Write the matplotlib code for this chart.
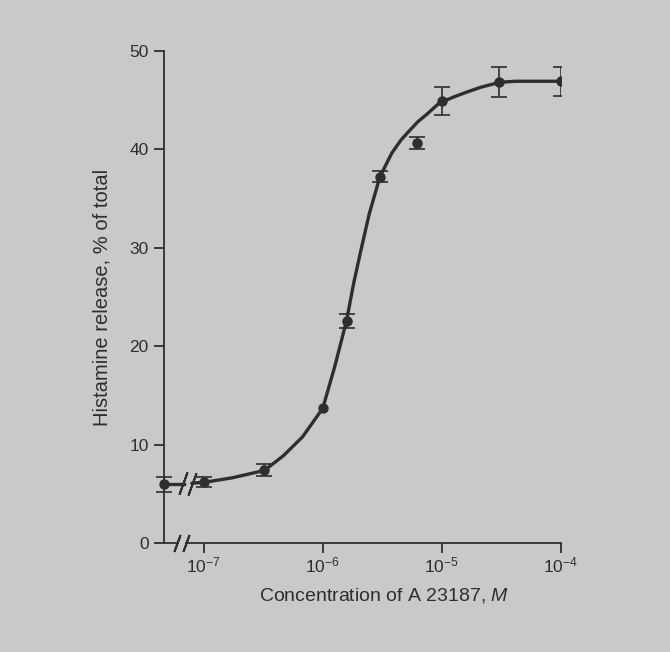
import numpy as np
import matplotlib as mpl
mpl.use('Agg')
import matplotlib.pyplot as plt
from matplotlib.ticker import FixedLocator, NullLocator

# measured points (A 23187 concentration, M)
conc = [1e-7, 3.2e-7, 1e-6, 1.6e-6, 3e-6, 6.2e-6, 1e-5, 3e-5, 1e-4]
release = [6.2, 7.4, 13.7, 22.6, 37.2, 40.6, 44.9, 46.8, 46.9]
release_err = [0.5, 0.6, 0.0, 0.7, 0.55, 0.6, 1.45, 1.5, 1.45]

# control (no ionophore), drawn on the y axis
control_release = 6.0
control_err = 0.75

# hand drawn curve (log10 of concentration)
curve_logc = [-7.10, -6.99, -6.76, -6.49, -6.33, -6.17, -6.00, -5.90, -5.80,
              -5.74, -5.68, -5.61, -5.52, -5.42, -5.345, -5.27, -5.20, -5.13,
              -5.02, -4.90, -4.79, -4.67, -4.51, -4.38, -4.00]
curve_release = [6.1, 6.2, 6.65, 7.4, 8.9, 10.8, 13.7, 17.9, 22.6,
                 26.4, 29.7, 33.4, 37.2, 39.6, 40.9, 41.9, 42.8, 43.5,
                 44.7, 45.3, 45.8, 46.3, 46.8, 46.9, 46.9]

xticks = [1e-7, 1e-6, 1e-5, 1e-4]
xticklabels = [r'$10^{-7}$', r'$10^{-6}$', r'$10^{-5}$', r'$10^{-4}$']
yticks = [0, 10, 20, 30, 40, 50]

bg = '#c9c9c7'
ink = '#2e2e2e'

plt.rcParams['font.family'] = ['Liberation Sans', 'DejaVu Sans']
plt.rcParams['mathtext.fontset'] = 'custom'
plt.rcParams['mathtext.rm'] = 'Liberation Sans'
plt.rcParams['mathtext.it'] = 'Liberation Sans:italic'
plt.rcParams['font.size'] = 12

fig = plt.figure(figsize=(6.7, 6.52), dpi=100)
fig.patch.set_facecolor(bg)
ax = fig.add_axes([0.2448, 0.1667, 0.5921, 0.7555])
ax.set_facecolor(bg)

xmin = 10 ** -7.334
ax.set_xscale('log')
ax.set_xlim(xmin, 1e-4)
ax.set_ylim(0, 50)

# curve
ax.plot(10 ** np.array(curve_logc), curve_release, color=ink, lw=2.4,
        solid_capstyle='round', solid_joinstyle='round', zorder=3)
# control segment up to the break
brk_a = 10 ** -7.165
ax.plot([xmin, brk_a], [control_release, control_release], color=ink, lw=2.4,
        clip_on=False, zorder=3)

# data points
conc_a = np.array(conc)
rel_a = np.array(release)
err_a = np.array(release_err)
has_err = err_a > 0
ax.errorbar(conc_a[has_err], rel_a[has_err], yerr=err_a[has_err], fmt='o',
            color=ink, ms=6.5, elinewidth=1.2, capsize=6, capthick=1.2,
            zorder=4)
ax.plot(conc_a[~has_err], rel_a[~has_err], 'o', color=ink, ms=6.5, zorder=4)
ax.errorbar([xmin], [control_release], yerr=[control_err], fmt='o',
            color=ink, ms=6.5, elinewidth=1.2, capsize=6, capthick=1.2,
            clip_on=False, zorder=4)

# break marks on the curve and on the x axis
slash = (2, 2, -20)
ax.plot([10 ** -7.175, 10 ** -7.095], [control_release + 0.1, control_release + 0.05],
        ls='none', marker=slash, ms=17, mew=1.4, color=ink, clip_on=False, zorder=5)
ax.plot([10 ** -7.225, 10 ** -7.148], [0, 0], ls='none', marker=slash, ms=13,
        mew=1.4, color=ink, clip_on=False, zorder=5)

# axes styling
for side in ['top', 'right']:
    ax.spines[side].set_visible(False)
for side in ['left', 'bottom']:
    ax.spines[side].set_color(ink)
    ax.spines[side].set_linewidth(1.3)
ax.spines['bottom'].set_bounds(10 ** -7.148, 1e-4)
ax.plot([xmin, 10 ** -7.225], [0, 0], color=ink, lw=1.3, clip_on=False,
        solid_capstyle='butt')

ax.xaxis.set_major_locator(FixedLocator(xticks))
ax.xaxis.set_minor_locator(NullLocator())
ax.set_xticklabels(xticklabels)
ax.set_yticks(yticks)
ax.tick_params(axis='both', direction='out', length=7, width=1.3,
               colors=ink, labelsize=12.5)
ax.tick_params(axis='x', pad=2)
ax.tick_params(axis='y', pad=4)

ax.set_ylabel('Histamine release, % of total', color=ink, fontsize=14.5)
ax.yaxis.set_label_coords(-0.132, 0.5)
ax.set_xlabel('Concentration of A 23187, $\\mathit{M}$', color=ink,
              fontsize=14)
ax.xaxis.set_label_coords(0.555, -0.086)

fig.savefig('out.png', dpi=100, facecolor=bg)
